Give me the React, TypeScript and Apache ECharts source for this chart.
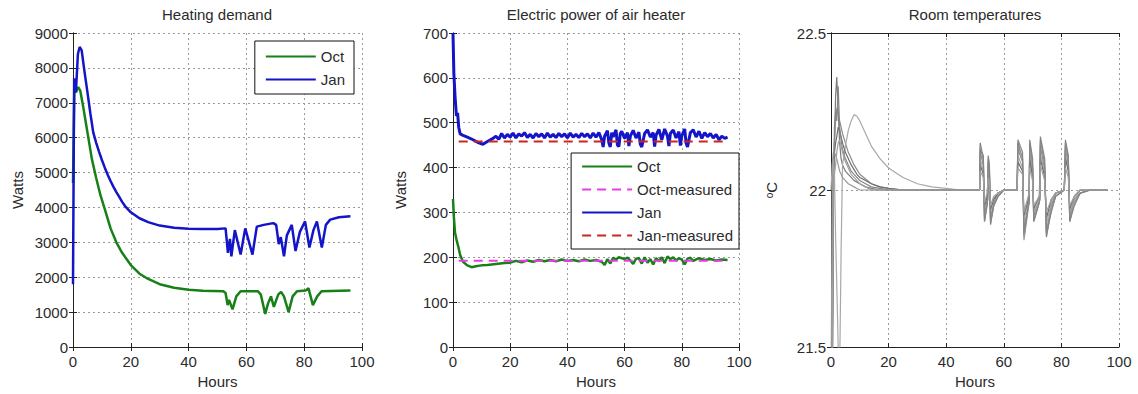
import React, { useEffect, useRef } from "react";
import * as echarts from "echarts";

// ---------- Data ----------
const X_MIN = 0;
const X_MAX = 100;
const X_STEP = 20;

// Heating demand [hour, watts]
const JAN_HEAT_HOURS = [0, 0.4, 1.0, 1.7, 2.3, 3, 3.8, 5, 6, 7, 8, 9, 10, 11, 12, 13, 14, 15, 16, 17, 18, 20, 23, 26, 30, 35, 40, 45, 50, 52.8, 53.6, 54.3, 54.8, 56.0, 58.0, 59.6, 62.1, 63.6, 66, 69.3, 70.3, 71.2, 71.9, 73.0, 74.0, 75.7, 77.0, 78.5, 80.3, 81.8, 83.2, 84.4, 86.1, 87.5, 89, 92, 96];
const JAN_HEAT = [1800, 7700, 7300, 8400, 8600, 8500, 8000, 7300, 6700, 6150, 5860, 5600, 5360, 5140, 4940, 4760, 4590, 4440, 4300, 4160, 4040, 3860, 3690, 3580, 3480, 3420, 3390, 3380, 3380, 3400, 2700, 3100, 2600, 3350, 2650, 3400, 2650, 3450, 3500, 3550, 3500, 2950, 3150, 2600, 3200, 3500, 2750, 3300, 3600, 2850, 3350, 3600, 2850, 3500, 3650, 3720, 3750];
const OCT_HEAT_HOURS = [0, 0.5, 1.0, 1.8, 2.5, 3.5, 4.5, 5.5, 6.5, 8, 9.5, 11, 13, 15, 17, 20, 23, 26, 30, 35, 40, 45, 52, 52.8, 53.5, 54, 55.2, 56.5, 58, 64, 65, 66.5, 67.5, 68.5, 69.5, 71, 72, 73, 74.6, 76, 77.5, 80.5, 81.5, 83, 84.5, 86, 96];
const OCT_HEAT = [4700, 7600, 7300, 7450, 7350, 6900, 6400, 5900, 5400, 4850, 4350, 3950, 3400, 3000, 2700, 2350, 2100, 1950, 1800, 1700, 1640, 1610, 1600, 1550, 1200, 1350, 1080, 1450, 1600, 1600, 1500, 950, 1250, 1450, 1150, 1500, 1580, 1450, 1000, 1450, 1600, 1620, 1680, 1200, 1450, 1600, 1620];

// Electric power of air heater [hour, watts]
const JAN_POWER: [number, number][] = [[0,700],[0.3,610],[0.7,560],[1.2,515],[1.6,522],[2,490],[2.5,475],[3.5,472],[5,468],[7,462],[9,455],[10.5,452],[12,458],[14,465],[15,470],[16,463],[17,476],[18,466],[19,474],[20,468],[21,477],[22,466],[23,475],[24,470],[25,478],[26,467],[27,474],[28,466],[29,476],[30,469],[31,475],[32,466],[33,477],[34,468],[35,474],[36,467],[37,476],[38,469],[39,475],[40,466],[41,477],[42,468],[43,474],[44,467],[45,476],[46,469],[47,475],[48,466],[49,477],[50,468],[51,478],[52,462],[52.5,446],[53,470],[54,482],[54.5,455],[55,446],[55.5,478],[56,468],[57,484],[57.5,450],[58,447],[58.5,476],[59,481],[60,465],[61,478],[61.5,448],[62,470],[63,483],[64,466],[65,479],[65.5,452],[66,446],[67,476],[68,484],[69,468],[70,478],[70.5,447],[71,472],[72,485],[73,462],[74,486],[75,470],[75.5,448],[76,476],[77,484],[78,466],[79,480],[79.5,449],[80,471],[81,486],[81.5,455],[82,446],[83,478],[84,484],[85,468],[86,481],[87,465],[88,478],[89,469],[90,476],[91,466],[92,474],[93,462],[94,470],[95,465],[96,468]];
const OCT_POWER: [number, number][] = [[0,330],[0.3,290],[0.7,255],[1.2,240],[1.8,225],[2.5,205],[3.5,190],[5,182],[6.5,178],[8,180],[10,182],[12,183],[15,185],[18,187],[20,188],[22,192],[24,189],[26,193],[28,190],[30,194],[32,191],[34,194],[36,191],[38,195],[40,192],[42,194],[44,191],[46,195],[48,192],[50,194],[52,190],[53,183],[54,196],[55,186],[56,199],[57,195],[58,200],[60,196],[61,199],[62,193],[63,185],[64,197],[65,198],[66,186],[67,200],[68,188],[69,196],[70,184],[71,198],[72,192],[73,200],[74,187],[75,202],[76,196],[77,200],[78,193],[79,198],[80,195],[81,184],[82,197],[83,199],[84,192],[86,198],[88,194],[90,196],[92,193],[94,195],[96,194]];
const MEASURED_HOURS = [2, 96];
const OCT_MEASURED = [192, 192];
const JAN_MEASURED = [458, 458];

// Room temperatures
const T_EARLY = [0, 0.4, 0.8, 1.2, 1.6, 2.0, 2.5, 3.0, 3.5, 4, 5, 6, 7, 8, 9, 10, 12, 14, 17, 20, 25, 30, 35, 40];
const T_LATE = [45, 51.6, 51.8, 52.9, 53.3, 54.2, 54.4, 54.6, 55.0, 55.4, 56.5, 58, 60, 64.6, 64.9, 66.5, 67.0, 68.5, 68.8, 69.0, 70.0, 70.4, 72.3, 72.5, 72.7, 74.2, 74.8, 76.5, 78, 81.0, 81.2, 81.4, 82.4, 82.9, 84.5, 86.5, 90, 96];
const ZONE1_EARLY = [21.0, 21.2, 21.9, 22.15, 22.3, 22.36, 22.25, 22.15, 22.1, 22.08, 22.06, 22.05, 22.04, 22.03, 22.025, 22.02, 22.01, 22.005, 22.0, 22.0, 22.0, 22.0, 22.0, 22.0];
const ZONE2_EARLY = [21.1, 21.3, 22.05, 22.15, 22.22, 22.26, 22.24, 22.22, 22.2, 22.18, 22.15, 22.12, 22.1, 22.08, 22.065, 22.05, 22.035, 22.02, 22.01, 22.005, 22.0, 22.0, 22.0, 22.0];
const ZONE3_EARLY = [22.0, 22.08, 22.12, 22.05, 21.85, 21.7, 21.5, 21.42, 21.8, 22.08, 22.14, 22.19, 22.22, 22.24, 22.235, 22.22, 22.18, 22.14, 22.1, 22.07, 22.04, 22.02, 22.01, 22.005];
const ZONE4_EARLY = [21.2, 21.35, 22.05, 22.12, 22.15, 22.17, 22.2, 22.19, 22.17, 22.15, 22.12, 22.1, 22.08, 22.065, 22.05, 22.04, 22.03, 22.02, 22.01, 22.005, 22.0, 22.0, 22.0, 22.0];
const ZONE5_EARLY = [21.3, 22.0, 22.1, 22.12, 22.11, 22.1, 22.08, 22.06, 22.05, 22.04, 22.03, 22.02, 22.015, 22.01, 22.005, 22.0, 22.0, 22.0, 22.0, 22.0, 22.0, 22.0, 22.0, 22.0];
const ZONE6_EARLY = [21.0, 21.25, 22.0, 22.2, 22.25, 22.22, 22.33, 22.2, 22.16, 22.13, 22.1, 22.08, 22.06, 22.05, 22.04, 22.03, 22.02, 22.01, 22.005, 22.0, 22.0, 22.0, 22.0, 22.0];
const ZONE7_EARLY = [21.1, 21.4, 22.1, 22.05, 22.08, 22.12, 22.15, 22.16, 22.14, 22.12, 22.09, 22.07, 22.05, 22.04, 22.03, 22.02, 22.01, 22.0, 22.0, 22.0, 22.0, 22.0, 22.0, 22.0];
const ZONE1_LATE = [22.0, 22.0, 22.15, 22.1, 21.9, 21.96, 21.97, 22.1, 22.07, 21.89, 21.95, 21.98, 22.0, 22.0, 22.15, 22.1, 21.85, 21.95, 21.96, 22.15, 22.08, 21.9, 21.96, 21.97, 22.16, 22.08, 21.85, 21.94, 21.98, 22.0, 22.0, 22.15, 22.1, 21.9, 21.96, 21.99, 22.0, 22.0];
const ZONE2_LATE = [22.0, 22.0, 22.12, 22.08, 21.92, 21.97, 21.98, 22.08, 22.05, 21.91, 21.96, 21.99, 22.0, 22.0, 22.13, 22.09, 21.87, 21.96, 21.97, 22.13, 22.06, 21.92, 21.97, 21.98, 22.14, 22.06, 21.87, 21.95, 21.99, 22.0, 22.0, 22.13, 22.08, 21.92, 21.97, 21.99, 22.0, 22.0];
const ZONE3_LATE = [22.0, 22.0, 22.1, 22.06, 21.94, 21.98, 21.98, 22.06, 22.04, 21.93, 21.97, 21.99, 22.0, 22.0, 22.11, 22.07, 21.9, 21.97, 21.98, 22.12, 22.05, 21.93, 21.97, 21.98, 22.12, 22.05, 21.89, 21.96, 21.99, 22.0, 22.0, 22.11, 22.07, 21.93, 21.97, 22.0, 22.0, 22.0];
const ZONE4_LATE = [22.0, 22.0, 22.08, 22.05, 21.95, 21.98, 21.99, 22.05, 22.03, 21.94, 21.97, 21.99, 22.0, 22.0, 22.09, 22.06, 21.92, 21.97, 21.98, 22.1, 22.04, 21.94, 21.98, 21.98, 22.1, 22.04, 21.91, 21.97, 21.99, 22.0, 22.0, 22.1, 22.06, 21.94, 21.98, 22.0, 22.0, 22.0];
const ZONE5_LATE = [22.0, 22.0, 22.14, 22.09, 21.91, 21.96, 21.97, 22.09, 22.06, 21.9, 21.95, 21.98, 22.0, 22.0, 22.14, 22.1, 21.84, 21.94, 21.96, 22.14, 22.07, 21.91, 21.96, 21.97, 22.15, 22.07, 21.86, 21.94, 21.98, 22.0, 22.0, 22.14, 22.09, 21.91, 21.96, 21.99, 22.0, 22.0];
const ZONE6_LATE = [22.0, 22.0, 22.13, 22.11, 21.9, 21.95, 21.97, 22.11, 22.08, 21.9, 21.95, 21.98, 22.0, 22.0, 22.16, 22.12, 21.86, 21.95, 21.96, 22.16, 22.1, 21.9, 21.96, 21.97, 22.17, 22.1, 21.86, 21.93, 21.98, 22.0, 22.0, 22.16, 22.11, 21.9, 21.95, 21.99, 22.0, 22.0];
const ZONE7_LATE = [22.0, 22.0, 22.06, 22.04, 21.96, 21.99, 21.99, 22.04, 22.02, 21.95, 21.98, 21.99, 22.0, 22.0, 22.07, 22.05, 21.93, 21.98, 21.99, 22.07, 22.03, 21.95, 21.98, 21.99, 22.08, 22.03, 21.93, 21.97, 21.99, 22.0, 22.0, 22.07, 22.04, 21.95, 21.98, 22.0, 22.0, 22.0];
const ZONES = [
  { name: "Zone 1", early: ZONE1_EARLY, late: ZONE1_LATE, color: "#7a7a7a" },
  { name: "Zone 2", early: ZONE2_EARLY, late: ZONE2_LATE, color: "#8c8c8c" },
  { name: "Zone 3", early: ZONE3_EARLY, late: ZONE3_LATE, color: "#a8a8a8" },
  { name: "Zone 4", early: ZONE4_EARLY, late: ZONE4_LATE, color: "#6e6e6e" },
  { name: "Zone 5", early: ZONE5_EARLY, late: ZONE5_LATE, color: "#999999" },
  { name: "Zone 6", early: ZONE6_EARLY, late: ZONE6_LATE, color: "#858585" },
  { name: "Zone 7", early: ZONE7_EARLY, late: ZONE7_LATE, color: "#a0a0a0" },
];

// ---------- Styling ----------
const FONT = "Liberation Sans, Arial, sans-serif";
const TXT = "#2b2b2b";
const GREEN = "#178017";
const BLUE = "#1414c8";
const MAGENTA = "#e83ce8";
const RED = "#c8281e";

const pair = (xs: number[], ys: number[]) => xs.map((x, i) => [x, ys[i]]);

const gridLine = { show: true, lineStyle: { color: "#9a9a9a", type: [2, 3] as any, width: 1 } };
const tick = { show: true, inside: true, length: 4, lineStyle: { color: "#222" } };
const line = { show: true, lineStyle: { color: "#222", width: 1 } };
const label = (extra: any = {}) => ({ color: TXT, fontSize: 15, fontFamily: FONT, formatter: (v: number) => String(v), ...extra });

function bottomX(gridIndex: number) {
  return {
    type: "value", gridIndex, min: X_MIN, max: X_MAX, interval: X_STEP, position: "bottom",
    name: "Hours", nameLocation: "middle", nameGap: 27,
    nameTextStyle: { color: TXT, fontSize: 15, fontFamily: FONT },
    axisLine: line, axisTick: tick, axisLabel: label({ margin: 7 }), splitLine: gridLine,
  };
}
function topX(gridIndex: number) {
  return {
    type: "value", gridIndex, min: X_MIN, max: X_MAX, interval: X_STEP, position: "top",
    axisLine: line, axisTick: tick, axisLabel: { show: false }, splitLine: { show: false },
  };
}
function leftY(gridIndex: number, min: number, max: number, interval: number, name: string, nameGap: number, nameStyle: any = {}) {
  return {
    type: "value", gridIndex, min, max, interval, position: "left",
    name, nameLocation: "middle", nameGap,
    nameTextStyle: { color: TXT, fontSize: 15, fontFamily: FONT, ...nameStyle },
    axisLine: line, axisTick: tick, axisLabel: label({ margin: 5 }), splitLine: gridLine,
  };
}
function rightY(gridIndex: number, min: number, max: number, interval: number) {
  return {
    type: "value", gridIndex, min, max, interval, position: "right",
    axisLine: line, axisTick: tick, axisLabel: { show: false }, splitLine: { show: false },
  };
}

const lineSeries = (name: string, data: any[], xi: number, color: string, width: number, type: any = "solid", z = 2) => ({
  type: "line", name, data, xAxisIndex: xi, yAxisIndex: xi, symbol: "none", showSymbol: false,
  lineStyle: { color, width, type }, itemStyle: { color }, z, clip: true,
});

const legendBase = {
  orient: "vertical", itemWidth: 50, itemHeight: 15, itemGap: 8,
  backgroundColor: "#fff", borderColor: "#111", borderWidth: 1, borderRadius: 0,
  itemStyle: { opacity: 0 },
  textStyle: { color: TXT, fontSize: 15, fontFamily: FONT }, selectedMode: false,
};

const titleStyle = { color: TXT, fontSize: 15, fontWeight: "normal", fontFamily: FONT };

export default function App() {
  const ref = useRef<HTMLDivElement>(null);
  useEffect(() => {
    document.body.style.margin = "0";
    if (!ref.current) return;
    const chart = echarts.init(ref.current, null, { renderer: "svg" });
    const option: any = {
      animation: false,
      backgroundColor: "#fff",
      title: [
        { text: "Heating demand", left: 217, top: 7, textAlign: "center", padding: 0, textStyle: titleStyle },
        { text: "Electric power of air heater", left: 596, top: 7, textAlign: "center", padding: 0, textStyle: titleStyle },
        { text: "Room temperatures", left: 975, top: 7, textAlign: "center", padding: 0, textStyle: titleStyle },
      ],
      grid: [
        { left: 73, top: 33, width: 289, height: 315 },
        { left: 453, top: 33, width: 286, height: 315 },
        { left: 831, top: 33, width: 288, height: 315 },
      ],
      xAxis: [bottomX(0), bottomX(1), bottomX(2), topX(0), topX(1), topX(2)],
      yAxis: [
        leftY(0, 0, 9000, 1000, "Watts", 48),
        leftY(1, 0, 700, 100, "Watts", 45),
        leftY(2, 21.5, 22.5, 0.5, "{s|o}C", 52, { rich: { s: { fontSize: 10, verticalAlign: "top", color: TXT, fontFamily: FONT } } }),
        rightY(0, 0, 9000, 1000), rightY(1, 0, 700, 100), rightY(2, 21.5, 22.5, 0.5),
      ],
      legend: [
        { ...legendBase, data: ["Oct", "Jan"], right: 784, top: 41, padding: [8, 9, 7, 10] },
        { ...legendBase, data: ["Oct", "Oct-measured", "Jan", "Jan-measured"], right: 399, top: 153, padding: [6, 6, 6, 10] },
      ],
      series: [
        lineSeries("Oct", pair(OCT_HEAT_HOURS, OCT_HEAT), 0, GREEN, 2.5),
        lineSeries("Jan", pair(JAN_HEAT_HOURS, JAN_HEAT), 0, BLUE, 2.5),
        lineSeries("Oct", OCT_POWER, 1, GREEN, 2.5),
        lineSeries("Oct-measured", pair(MEASURED_HOURS, OCT_MEASURED), 1, MAGENTA, 2, [9, 6], 3),
        lineSeries("Jan", JAN_POWER, 1, BLUE, 3),
        lineSeries("Jan-measured", pair(MEASURED_HOURS, JAN_MEASURED), 1, RED, 2, [9, 6], 3),
        ...ZONES.map((z) =>
          lineSeries(z.name, pair(T_EARLY, z.early).concat(pair(T_LATE, z.late)), 2, z.color, 1.2)
        ),
      ],
    };
    chart.setOption(option);
    return () => chart.dispose();
  }, []);
  return <div ref={ref} style={{ width: 1138, height: 394 }} />;
}
